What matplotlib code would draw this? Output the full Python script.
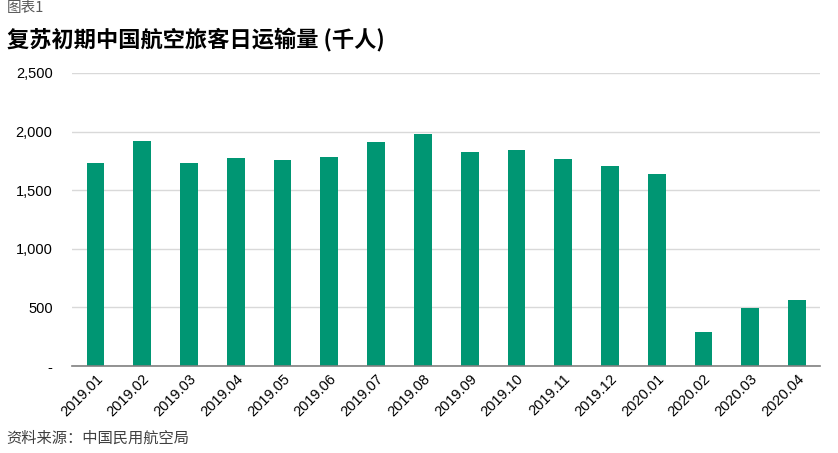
import matplotlib
matplotlib.use("Agg")
import matplotlib.pyplot as plt
from matplotlib.ticker import FuncFormatter

plt.rcParams['font.family'] = ['Liberation Sans', 'Noto Sans CJK SC', 'DejaVu Sans']

categories = ["2019.01", "2019.02", "2019.03", "2019.04", "2019.05", "2019.06",
              "2019.07", "2019.08", "2019.09", "2019.10", "2019.11", "2019.12",
              "2020.01", "2020.02", "2020.03", "2020.04"]
values = [1730, 1920, 1730, 1775, 1758, 1783, 1911, 1980, 1826, 1843, 1766, 1707,
          1638, 290, 495, 563]
yticks = [0, 500, 1000, 1500, 2000, 2500]

fig = plt.figure(figsize=(8.38, 4.53), dpi=100)
ax = fig.add_axes([0.086, 0.192, 0.893, 0.647])

x = range(len(categories))
ax.bar(x, values, width=0.38, color="#009673", zorder=3)
ax.set_xlim(-0.5, len(categories) - 0.5)
ax.set_ylim(0, 2500)
ax.set_yticks(yticks)
ax.yaxis.set_major_formatter(FuncFormatter(lambda v, p: "-" if v == 0 else f"{int(v):,}"))
ax.grid(axis="y", color="#d9d9d9", linewidth=1, zorder=0)
for s in ["top", "right", "left"]:
    ax.spines[s].set_visible(False)
ax.spines["bottom"].set_color("#808080")
ax.spines["bottom"].set_linewidth(1.2)
ax.spines["bottom"].set_zorder(4)
ax.tick_params(axis="y", length=0, pad=14, labelsize=10.5)
ax.tick_params(axis="x", length=0, pad=4, labelsize=10.5)
ax.set_xticks(list(x))
ax.set_xticklabels(categories, rotation=45, ha="right", rotation_mode="anchor")

fig.text(0.008, 0.998, "图表1", fontsize=10.5, color="#595959",
         family=['Noto Sans CJK SC', 'DejaVu Sans'], va="top", ha="left")
fig.text(0.008, 0.910, "复苏初期中国航空旅客日运输量 (千人)", fontsize=16, fontweight="bold",
         color="#000000", family=['Noto Sans CJK SC', 'DejaVu Sans'], va="center", ha="left")
fig.text(0.008, 0.033, "资料来源：中国民用航空局", fontsize=11, color="#404040",
         family=['Noto Sans CJK SC', 'DejaVu Sans'], va="center", ha="left", style="italic")

fig.savefig("out.png", dpi=100)
